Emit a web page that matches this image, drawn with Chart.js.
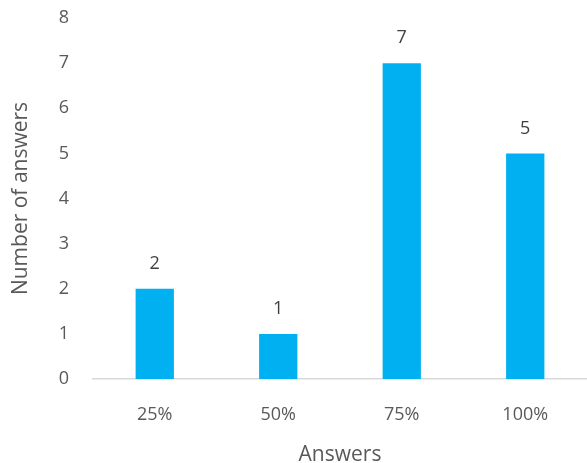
<!DOCTYPE html>
<html lang="en">
<head>
  <meta charset="UTF-8" />
  <title>Answers</title>
  <script src="https://cdn.jsdelivr.net/npm/chart.js"></script>
  <style>
    body { margin: 0; background: #fff; }
    #wrap { width: 587px; height: 463px; }
  </style>
</head>
<body>
  <div id="wrap"><canvas id="answersChart" width="587" height="463"></canvas></div>
  <script>
    const categories = ['25%', '50%', '75%', '100%'];
    const answerCounts = [2, 1, 7, 5];
    const yTicks = [0, 1, 2, 3, 4, 5, 6, 7, 8];

    const FONT = "'Open Sans', sans-serif";

    // value labels above each bar
    const barLabels = {
      id: 'barLabels',
      afterDatasetsDraw(chart) {
        const ctx = chart.ctx;
        const meta = chart.getDatasetMeta(0);
        ctx.save();
        ctx.font = '18px ' + FONT;
        ctx.fillStyle = '#404040';
        ctx.textAlign = 'center';
        ctx.textBaseline = 'middle';
        meta.data.forEach((bar, i) => {
          ctx.fillText(answerCounts[i], bar.x, bar.y - 25);
        });
        ctx.restore();
      }
    };

    const ctx = document.getElementById('answersChart').getContext('2d');
    new Chart(ctx, {
      type: 'bar',
      data: {
        labels: categories,
        datasets: [{
          data: answerCounts,
          backgroundColor: '#00b0f0',
          categoryPercentage: 1,
          barPercentage: 0.31
        }]
      },
      options: {
        responsive: false,
        animation: false,
        layout: { padding: { top: 18, right: 0, left: 0, bottom: 0 } },
        plugins: { legend: { display: false }, tooltip: { enabled: false } },
        scales: {
          x: {
            grid: { display: false, drawTicks: false },
            border: { color: '#d9d9d9', width: 1.5 },
            ticks: { color: '#595959', font: { family: FONT, size: 18 }, padding: 25 },
            title: { display: true, text: 'Answers', color: '#595959', font: { family: FONT, size: 21 }, padding: { top: 12, bottom: -5 } },
            afterFit(scale) { scale.height = 84; scale.paddingLeft = 0; scale.paddingRight = 0; }
          },
          y: {
            min: 0, max: 8,
            afterBuildTicks(scale) { scale.ticks = yTicks.map(v => ({ value: v })); },
            grid: { display: false, drawTicks: false },
            border: { display: false },
            ticks: { color: '#595959', font: { family: FONT, size: 18 }, padding: 24 },
            title: { display: true, text: 'Number of answers', color: '#595959', font: { family: FONT, size: 21 }, padding: { top: 8, bottom: 0 } },
            afterFit(scale) { scale.width = 93; scale.paddingTop = 0; scale.paddingBottom = 0; }
          }
        }
      },
      plugins: [barLabels]
    });
  </script>
</body>
</html>
